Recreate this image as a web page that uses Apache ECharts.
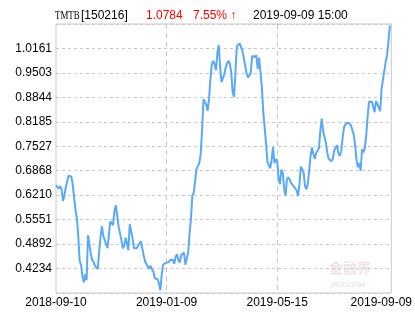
<!DOCTYPE html>
<html><head><meta charset="utf-8">
<script src="https://cdn.jsdelivr.net/npm/echarts/dist/echarts.min.js"></script>
<style>html,body{margin:0;padding:0;background:#fff}#c{width:415px;height:330px}</style>
</head><body><div id="c"></div>
<script>
const fundName = 'TMTB';
const fundCode = '[150216]';
const lastPrice = '1.0784';
const lastChange = '7.55% ↑';
const lastTime = '2019-09-09 15:00';
const xTickLabels = ['2018-09-10', '2019-01-09', '2019-05-15', '2019-09-09'];
const yMin = 0.3575, yInterval = 0.065864, ySteps = 11;
const navValues = [
0.6478,0.6467,0.6384,0.6451,0.6378,0.6055,0.6190,0.6416,0.6459,0.6734,
0.6686,0.6712,0.6505,0.6505,0.5805,0.5589,0.5112,0.4439,0.4342,0.4027,
0.3865,0.4080,0.3919,0.5131,0.4889,0.4633,0.4466,0.4412,0.4304,0.4256,
0.4229,0.4673,0.5077,0.5373,0.5112,0.5096,0.4889,0.4781,0.5137,0.5508,
0.5473,0.5401,0.5778,0.5939,0.5966,0.5363,0.5355,0.5000,0.4781,0.4835,
0.5066,0.4916,0.4727,0.5427,0.5473,0.5061,0.4781,0.4808,0.4781,0.4822,
0.4916,0.4970,0.4781,0.4592,0.4431,0.4350,0.4323,0.4229,0.4309,0.4215,
0.4148,0.3973,0.3946,0.3946,0.3838,0.3649,0.4080,0.4342,0.4358,0.4388,
0.4428,0.4407,0.4466,0.4498,0.4468,0.4363,0.4552,0.4619,0.4458,0.4396,
0.4592,0.4635,0.4665,0.4336,0.4328,0.4668,0.5180,0.5578,0.6198,0.6276,
0.6236,0.6909,0.6998,0.7071,0.7313,0.7987,0.8795,0.8814,0.8644,0.8482,
0.8803,0.9334,0.9751,0.9824,0.9738,0.9576,1.0048,1.0250,0.9657,0.9253,
0.9204,0.9468,0.9657,0.9757,0.9830,0.9738,0.9503,0.8970,0.8854,0.8830,
1.0223,1.0263,1.0296,1.0339,1.0096,0.9900,0.9865,0.9495,0.9382,0.9334,
0.9495,0.9961,0.9967,0.9926,0.9980,0.9603,0.9913,0.9509,0.9099,0.8445,
0.8404,0.7596,0.7098,0.7084,0.6936,0.7160,0.7502,0.7071,0.7184,0.7125,
0.6653,0.6505,0.6896,0.6820,0.6384,0.6195,0.6640,0.6694,0.6626,0.6535,
0.6494,0.6443,0.6443,0.6335,0.6182,0.6505,0.6977,0.6907,0.6815,0.6446,
0.6370,0.6513,0.6888,0.7265,0.7494,0.7313,0.7187,0.7346,0.7405,0.7475,
0.7941,0.8270,0.7938,0.7779,0.7620,0.7346,0.7187,0.7160,0.7125,0.7197,
0.7421,0.7449,0.7557,0.7340,0.7268,0.7394,0.7744,0.8027,0.8116,0.8146,
0.8165,0.8124,0.8089,0.8076,0.7838,0.7556,0.7152,0.6963,0.7071,0.6869,
0.7448,0.7362,0.7478,0.7825,0.8342,0.8720,0.8741,0.8736,0.8701,0.8445,
0.8741,0.8660,0.8701,0.8472,0.9064,0.9320,0.9557,0.9805,0.9993,1.0371,
1.0784
];

const FONT = '"Liberation Sans", Arial, sans-serif';
const xInterval = 79.5;
const xMax = navValues.length; // one slot of room on the right
const chart = echarts.init(document.getElementById('c'), null, {renderer: 'canvas'});
const hdr = (text, left, color) => ({
  text, left, top: 10, padding: 0,
  textStyle: {fontSize: 12, fontWeight: 'normal', color, fontFamily: FONT}
});
chart.setOption({
  animation: false,
  backgroundColor: '#fff',
  title: [
    hdr(fundCode, 81, '#000'),
    hdr(lastPrice, 146, '#ff0000'),
    hdr(lastChange, 193, '#ff0000'),
    hdr(lastTime, 253, '#000')
  ],
  graphic: [
    {type: 'text', x: 55, y: 10, scaleX: 0.74, silent: true,
     style: {text: fundName, fontSize: 12, fill: '#000', fontFamily: '"Liberation Serif", serif', verticalAlign: 'top', align: 'left'}},
    {type: 'text', left: 329, top: 261, silent: true, z: 0,
     style: {text: '金融界', fontSize: 14, fontWeight: 'bold', fill: '#f0e2e2', fontFamily: '"Noto Sans CJK SC", sans-serif'}},
    {type: 'text', left: 329, top: 281, silent: true, z: 0,
     style: {text: 'JRJ.COM', fontSize: 8, fontStyle: 'italic', fontWeight: 'bold', fill: '#f0e2e2', fontFamily: FONT}}
  ],
  grid: {left: 56, top: 24, width: 336, height: 269, show: true, borderColor: '#c8c8c8', borderWidth: 1, backgroundColor: 'transparent'},
  xAxis: {
    type: 'value', min: 0, max: xMax, interval: xInterval,
    axisLine: {show: false}, axisTick: {show: false},
    splitLine: {show: true, lineStyle: {color: ['rgba(0,0,0,0)', '#c8c8c8', '#c8c8c8', 'rgba(0,0,0,0)', 'rgba(0,0,0,0)'], type: [5, 4], width: 1}},
    axisLabel: {
      margin: 4, fontSize: 12, color: '#000', fontFamily: FONT, showMaxLabel: true,
      formatter: function (v) {
        const k = v / xInterval;
        const r = Math.round(k);
        if (Math.abs(k - r) > 1e-6 || r < 0 || r >= xTickLabels.length) return '';
        return r === xTickLabels.length - 1 ? '{last|' + xTickLabels[r] + '}' : xTickLabels[r];
      },
      rich: {last: {fontSize: 12, color: '#000', fontFamily: FONT, padding: [0, 13, 0, 0]}}
    }
  },
  yAxis: {
    type: 'value', min: yMin, max: +(yMin + ySteps * yInterval).toFixed(6), interval: yInterval,
    axisLine: {show: false}, axisTick: {show: false},
    splitLine: {show: true, lineStyle: {color: '#c8c8c8', type: [3, 3], width: 1}},
    axisLabel: {
      margin: 4, fontSize: 12, color: '#000', fontFamily: FONT,
      showMinLabel: false, showMaxLabel: false,
      formatter: v => v.toFixed(4)
    }
  },
  series: [{
    type: 'line', showSymbol: false, symbol: 'none',
    data: navValues.map((v, i) => [i, v]),
    lineStyle: {color: '#5aa9f8', width: 2},
    clip: true, z: 3
  }]
});
</script></body></html>
